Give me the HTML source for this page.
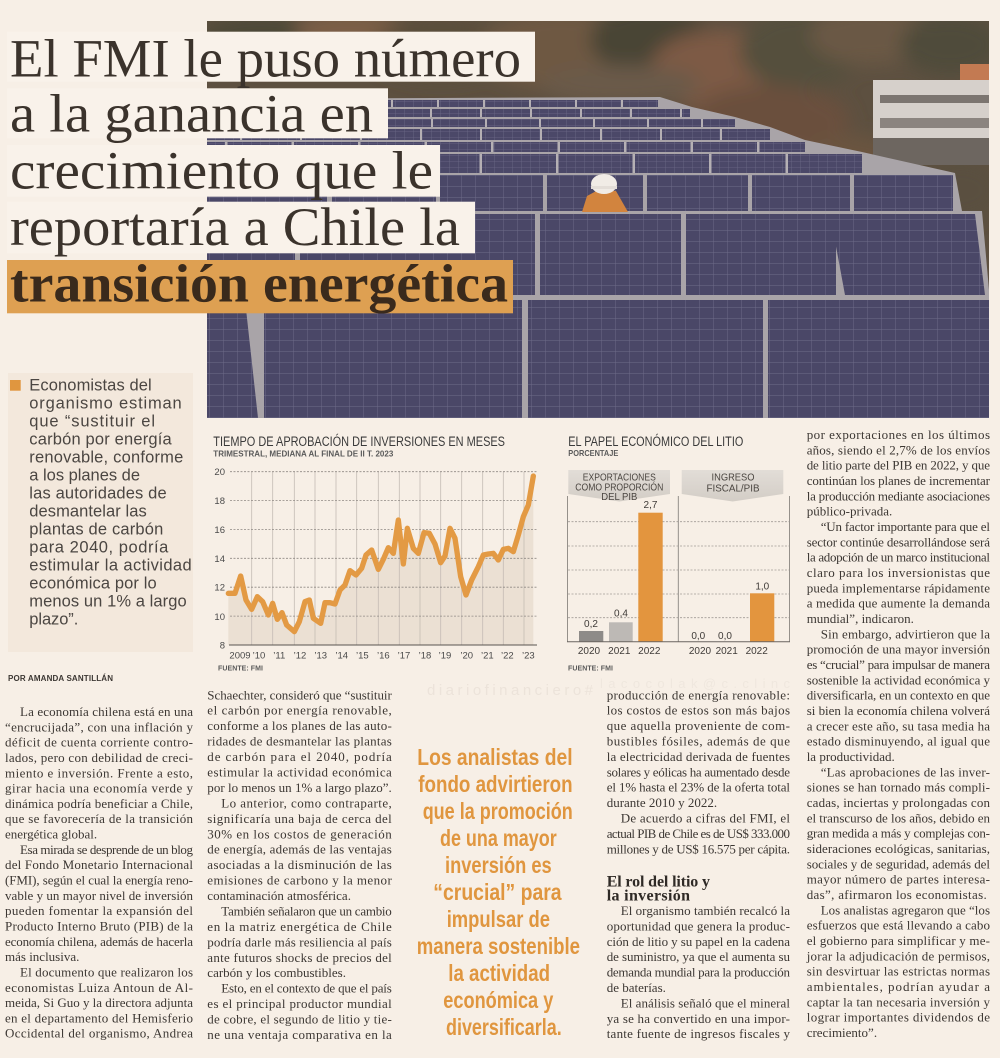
<!DOCTYPE html>
<html><head><meta charset="utf-8">
<style>
html,body{margin:0;padding:0;background:#f7efe6;}
svg{display:block}
.b{font-family:"Liberation Serif","DejaVu Serif",serif;font-size:13px;fill:#3c3733}
.s{font-family:"Liberation Sans","DejaVu Sans",sans-serif}
.h{font-family:"Liberation Serif","DejaVu Serif",serif;font-size:54px;fill:#3b332c}
.q{font-family:"Liberation Sans Narrow","Liberation Sans",sans-serif;font-size:23px;font-weight:bold;fill:#e0963f}
.sb{font-family:"Liberation Sans","DejaVu Sans",sans-serif;font-size:16.5px;fill:#4b4642}
.ax{font-family:"Liberation Sans",sans-serif;font-size:9.5px;fill:#4a4a4a}
</style></head>
<body>
<svg width="1000" height="1058" viewBox="0 0 1000 1058" xmlns="http://www.w3.org/2000/svg">
<defs>
  <clipPath id="pc"><rect x="207" y="21" width="782" height="397"/></clipPath>
  <filter id="bl" x="-50%" y="-50%" width="200%" height="200%"><feGaussianBlur stdDeviation="9"/></filter>
  <pattern id="cs" width="9" height="6" patternUnits="userSpaceOnUse"><rect width="9" height="6" fill="#4b4868"/><path d="M9 0V6M0 6H9" stroke="#6c6987" stroke-width="0.8"/></pattern>
  <pattern id="cl" width="14" height="11" patternUnits="userSpaceOnUse"><rect width="14" height="11" fill="#4a4767"/><path d="M14 0V11M0 11H14" stroke="#6f6c8a" stroke-width="0.9"/></pattern>
  <linearGradient id="tab" x1="0" y1="0" x2="0" y2="1"><stop offset="0" stop-color="#e2ddd7"/><stop offset="1" stop-color="#d3cdc6"/></linearGradient>
</defs>
<rect width="1000" height="1058" fill="#f7efe6"/>

<!-- PHOTO -->
<g clip-path="url(#pc)">
  <rect x="207" y="21" width="782" height="397" fill="#5d5040"/>
  <g filter="url(#bl)">
    <ellipse cx="260" cy="40" rx="60" ry="25" fill="#4d4a38"/>
    <ellipse cx="350" cy="30" rx="55" ry="20" fill="#7b5e47"/>
    <ellipse cx="440" cy="50" rx="70" ry="30" fill="#5a4d3a"/>
    <ellipse cx="560" cy="50" rx="80" ry="40" fill="#6e5842"/>
    <ellipse cx="650" cy="40" rx="60" ry="35" fill="#4a4536"/>
    <ellipse cx="720" cy="70" rx="70" ry="40" fill="#7d5a44"/>
    <ellipse cx="800" cy="50" rx="60" ry="40" fill="#55503c"/>
    <ellipse cx="870" cy="35" rx="60" ry="30" fill="#6a5845"/>
    <ellipse cx="950" cy="45" rx="50" ry="30" fill="#4f4c3b"/>
    <ellipse cx="620" cy="85" rx="80" ry="20" fill="#6b5a48"/>
    <ellipse cx="770" cy="120" rx="80" ry="35" fill="#6a4f3c"/>
    <ellipse cx="850" cy="160" rx="50" ry="25" fill="#6b5540"/>
    <ellipse cx="960" cy="190" rx="40" ry="30" fill="#5a5040"/>
  </g>
  <!-- building -->
  <rect x="960" y="64" width="30" height="16" fill="#c37a52"/>
  <rect x="873" y="80" width="116" height="85" fill="#d6d0cb"/>
  <rect x="880" y="95" width="109" height="8" fill="#7c7570"/>
  <rect x="880" y="118" width="109" height="10" fill="#8b847f"/>
  <rect x="873" y="138" width="116" height="27" fill="#6d6660"/>
  <!-- frames base -->
  <polygon points="207,99 660,97 692,107 735,117 770,127 805,140 862,152 955,173 962,211 982,211 989,290 989,418 207,418" fill="#a9a4a8"/>
  <!-- far rows -->
  <rect x="207" y="100" width="451" height="7" fill="url(#cs)"/>
  <rect x="207" y="109" width="483" height="8" fill="url(#cs)"/>
  <rect x="207" y="119" width="528" height="8" fill="url(#cs)"/>
  <rect x="207" y="129" width="563" height="11" fill="url(#cs)"/>
  <rect x="207" y="142" width="598" height="10" fill="url(#cs)"/>
  <rect x="207" y="154" width="655" height="19" fill="url(#cs)"/>
  <line x1="207" y1="103.5" x2="658" y2="103.5" stroke="#b5b0b4" stroke-width="7" stroke-dasharray="2 44"/>
  <line x1="230" y1="113" x2="690" y2="113" stroke="#b5b0b4" stroke-width="8" stroke-dasharray="2 48"/>
  <line x1="215" y1="123" x2="735" y2="123" stroke="#b5b0b4" stroke-width="8" stroke-dasharray="2 52"/>
  <line x1="240" y1="134.5" x2="770" y2="134.5" stroke="#b5b0b4" stroke-width="11" stroke-dasharray="2 58"/>
  <line x1="225" y1="147" x2="805" y2="147" stroke="#b5b0b4" stroke-width="10" stroke-dasharray="2.5 64"/>
  <line x1="250" y1="163.5" x2="862" y2="163.5" stroke="#b5b0b4" stroke-width="19" stroke-dasharray="2.5 74"/>
  <!-- row B -->
  <rect x="207" y="175" width="120" height="36" fill="url(#cl)"/>
  <rect x="332" y="175" width="104" height="36" fill="url(#cl)"/>
  <rect x="440" y="175" width="103" height="36" fill="url(#cl)"/>
  <rect x="547" y="175" width="96" height="36" fill="url(#cl)"/>
  <rect x="647" y="175" width="101" height="36" fill="url(#cl)"/>
  <rect x="752" y="175" width="98" height="36" fill="url(#cl)"/>
  <rect x="854" y="175" width="99" height="36" fill="url(#cl)"/>
  <!-- row C -->
  <rect x="207" y="214" width="88" height="81" fill="url(#cl)"/>
  <rect x="300" y="214" width="235" height="81" fill="url(#cl)"/>
  <rect x="540" y="214" width="141" height="81" fill="url(#cl)"/>
  <rect x="686" y="214" width="150" height="81" fill="url(#cl)"/>
  <polygon points="830,214 975,214 985,295 845,295" fill="url(#cl)"/>
  <!-- row D -->
  <polygon points="207,300 245,300 258,418 207,418" fill="url(#cl)"/>
  <rect x="264" y="300" width="258" height="118" fill="url(#cl)"/>
  <rect x="528" y="300" width="235" height="118" fill="url(#cl)"/>
  <rect x="768" y="300" width="221" height="118" fill="url(#cl)"/>
  <!-- worker -->
  <polygon points="582,212 587,196 600,189 616,191 628,212" fill="#d2843e"/>
  <ellipse cx="604" cy="184" rx="13" ry="10" fill="#f1ece6"/>
  <rect x="591" y="186" width="26" height="3" fill="#e4ded8"/>
</g>

<!-- TITLE -->
<rect x="7" y="31.7" width="528" height="50" fill="#f9f2ea"/>
<rect x="7" y="88.3" width="381" height="50" fill="#f9f2ea"/>
<rect x="7" y="145" width="433" height="51.7" fill="#f9f2ea"/>
<rect x="7" y="201.7" width="468" height="51.6" fill="#f9f2ea"/>
<rect x="7" y="260" width="506" height="53.3" fill="#dea052"/>
<text class="h" x="10" y="76.7" textLength="511" lengthAdjust="spacingAndGlyphs">El FMI le puso número</text>
<text class="h" x="10" y="131.7" textLength="363" lengthAdjust="spacingAndGlyphs">a la ganancia en</text>
<text class="h" x="10" y="188.3" textLength="423" lengthAdjust="spacingAndGlyphs">crecimiento que le</text>
<text class="h" x="10" y="245" textLength="450" lengthAdjust="spacingAndGlyphs">reportaría a Chile la</text>
<text class="h" x="10" y="301.7" textLength="498" lengthAdjust="spacingAndGlyphs" font-weight="bold" style="fill:#3a2a1c">transición energética</text>

<!-- SIDEBAR -->
<rect x="8" y="373" width="185" height="279" fill="#f3e8dc"/>
<rect x="10" y="380" width="10.7" height="10.7" fill="#e0963f"/>
<g class="sb">
<text x="29.3" y="390.7" textLength="122.4">Economistas del</text>
<text x="29.3" y="408.7" textLength="152.4">organismo estiman</text>
<text x="29.3" y="426.7" textLength="125.7">que “sustituir el</text>
<text x="29.3" y="444.7" textLength="142.4">carbón por energía</text>
<text x="29.3" y="462.7" textLength="154">renovable, conforme</text>
<text x="29.3" y="480.7" textLength="110.7">a los planes de</text>
<text x="29.3" y="498.7" textLength="137.4">las autoridades de</text>
<text x="29.3" y="516.7" textLength="117.4">desmantelar las</text>
<text x="29.3" y="534.7" textLength="134">plantas de carbón</text>
<text x="29.3" y="552.7" textLength="139">para 2040, podría</text>
<text x="29.3" y="570.7" textLength="162.4">estimular la actividad</text>
<text x="29.3" y="588.7" textLength="127.4">económica por lo</text>
<text x="29.3" y="606.7" textLength="157.4">menos un 1% a largo</text>
<text x="29.3" y="624.7" textLength="49">plazo”.</text>
</g>
<text class="s" x="8" y="681" font-size="8" font-weight="bold" fill="#3c3733" textLength="105">POR AMANDA SANTILLÁN</text>

<!-- CHART 1 -->
<text class="s" x="213.3" y="446" font-size="13.5" fill="#3a3a3a" textLength="291.7" lengthAdjust="spacingAndGlyphs">TIEMPO DE APROBACIÓN DE INVERSIONES EN MESES</text>
<text class="s" x="213.3" y="456.7" font-size="8.5" font-weight="bold" fill="#5a5a5a" textLength="180" lengthAdjust="spacingAndGlyphs">TRIMESTRAL, MEDIANA AL FINAL DE II T. 2023</text>
<g transform="translate(200,420) scale(0.33333)">
  <polygon points="85,520 105,520 122,468 138,540 155,568 172,530 188,545 205,585 218,550 232,598 246,578 260,615 283,635 298,605 315,545 328,540 340,595 362,610 375,548 390,548 405,552 420,510 435,495 450,452 468,465 485,445 498,405 515,390 535,448 550,418 565,383 580,400 595,300 610,432 622,325 640,385 655,400 672,338 688,340 705,372 722,428 735,408 750,325 765,355 782,470 798,525 815,480 835,440 850,405 865,402 880,400 895,420 910,388 925,385 940,395 955,345 970,290 985,255 1000,168 1000,675 85,675" fill="#ebe0d3"/>
</g>
<g stroke="#c4bcb4" stroke-width="0.8">
  <line x1="251.7" y1="471.7" x2="251.7" y2="645"/><line x1="272.7" y1="471.7" x2="272.7" y2="645"/>
  <line x1="294.3" y1="471.7" x2="294.3" y2="645"/><line x1="315" y1="471.7" x2="315" y2="645"/>
  <line x1="336" y1="471.7" x2="336" y2="645"/><line x1="356.7" y1="471.7" x2="356.7" y2="645"/>
  <line x1="378.3" y1="471.7" x2="378.3" y2="645"/><line x1="399.3" y1="471.7" x2="399.3" y2="645"/>
  <line x1="420" y1="471.7" x2="420" y2="645"/><line x1="440.7" y1="471.7" x2="440.7" y2="645"/>
  <line x1="461.7" y1="471.7" x2="461.7" y2="645"/><line x1="482.7" y1="471.7" x2="482.7" y2="645"/>
  <line x1="503.3" y1="471.7" x2="503.3" y2="645"/><line x1="524" y1="471.7" x2="524" y2="645"/>
</g>
<g stroke="#8f8984" stroke-width="0.8" stroke-dasharray="2 1.5">
  <line x1="230" y1="471.7" x2="537" y2="471.7"/><line x1="230" y1="500.6" x2="537" y2="500.6"/>
  <line x1="230" y1="529.5" x2="537" y2="529.5"/><line x1="230" y1="558.3" x2="537" y2="558.3"/>
  <line x1="230" y1="587.2" x2="537" y2="587.2"/><line x1="230" y1="616.1" x2="537" y2="616.1"/>
</g>
<line x1="229" y1="645" x2="537" y2="645" stroke="#5a5550" stroke-width="1"/>
<g transform="translate(200,420) scale(0.33333)">
  <polyline points="85,520 105,520 122,468 138,540 155,568 172,530 188,545 205,585 218,550 232,598 246,578 260,615 283,635 298,605 315,545 328,540 340,595 362,610 375,548 390,548 405,552 420,510 435,495 450,452 468,465 485,445 498,405 515,390 535,448 550,418 565,383 580,400 595,300 610,432 622,325 640,385 655,400 672,338 688,340 705,372 722,428 735,408 750,325 765,355 782,470 798,525 815,480 835,440 850,405 865,402 880,400 895,420 910,388 925,385 940,395 955,345 970,290 985,255 1000,168" fill="none" stroke="#e39a44" stroke-width="16" stroke-linejoin="round" stroke-linecap="round"/>
</g>
<g class="ax" text-anchor="end">
  <text x="225" y="475">20</text><text x="225" y="504">18</text><text x="225" y="533">16</text>
  <text x="225" y="562">14</text><text x="225" y="590.5">12</text><text x="225" y="620">10</text><text x="225" y="648.5">8</text>
</g>
<g class="ax" text-anchor="middle">
  <text x="240" y="658.5">2009</text><text x="259" y="658.5">’10</text><text x="279.3" y="658.5">’11</text>
  <text x="300" y="658.5">’12</text><text x="320.7" y="658.5">’13</text><text x="341.7" y="658.5">’14</text>
  <text x="362.3" y="658.5">’15</text><text x="383.3" y="658.5">’16</text><text x="404" y="658.5">’17</text>
  <text x="425" y="658.5">’18</text><text x="445" y="658.5">’19</text><text x="466.7" y="658.5">’20</text>
  <text x="487.3" y="658.5">’21</text><text x="507.3" y="658.5">’22</text><text x="528.3" y="658.5">’23</text>
</g>
<text class="s" x="218" y="670.7" font-size="7" font-weight="bold" fill="#5a5a5a" textLength="45">FUENTE: FMI</text>

<!-- CHART 2 -->
<text class="s" x="568.3" y="446" font-size="13.5" fill="#3a3a3a" textLength="175" lengthAdjust="spacingAndGlyphs">EL PAPEL ECONÓMICO DEL LITIO</text>
<text class="s" x="568.3" y="456" font-size="8.5" font-weight="bold" fill="#5a5a5a" textLength="50" lengthAdjust="spacingAndGlyphs">PORCENTAJE</text>
<polygon points="568.3,470 670,470 670,494 619.3,501.5 568.3,494" fill="url(#tab)"/>
<polygon points="681.7,470 783.3,470 783.3,494 732.7,501.5 681.7,494" fill="url(#tab)"/>
<g class="s" font-size="10" fill="#4a4540" text-anchor="middle">
  <text x="619.3" y="480.7" textLength="73" lengthAdjust="spacingAndGlyphs">EXPORTACIONES</text>
  <text x="619.3" y="490.7" textLength="88" lengthAdjust="spacingAndGlyphs">COMO PROPORCIÓN</text>
  <text x="619.3" y="500" textLength="36" lengthAdjust="spacingAndGlyphs">DEL PIB</text>
  <text x="733" y="480.7" textLength="43" lengthAdjust="spacingAndGlyphs">INGRESO</text>
  <text x="733" y="491.7" textLength="53" lengthAdjust="spacingAndGlyphs">FISCAL/PIB</text>
</g>
<g stroke="#a29c96" stroke-width="0.8" stroke-dasharray="2 1.5">
  <line x1="568" y1="521.7" x2="789" y2="521.7"/><line x1="568" y1="546" x2="789" y2="546"/>
  <line x1="568" y1="570" x2="789" y2="570"/><line x1="568" y1="594" x2="789" y2="594"/>
  <line x1="568" y1="617.7" x2="789" y2="617.7"/>
</g>
<g stroke="#8a8580" stroke-width="0.9">
  <line x1="567.5" y1="496" x2="567.5" y2="641.7"/>
  <line x1="678.3" y1="496" x2="678.3" y2="641.7"/>
  <line x1="789.5" y1="496" x2="789.5" y2="641.7"/>
</g>
<rect x="579" y="631" width="24.3" height="10.7" fill="#8e8b88"/>
<rect x="609" y="622.3" width="23.7" height="19.4" fill="#bdb9b5"/>
<rect x="638.3" y="512.7" width="24.4" height="129" fill="#e3953e"/>
<rect x="750" y="593.3" width="24.3" height="48.4" fill="#e3953e"/>
<line x1="567" y1="641.7" x2="790" y2="641.7" stroke="#6a6560" stroke-width="1"/>
<g class="s" font-size="10" fill="#3f3b38" text-anchor="middle">
  <text x="591" y="627">0,2</text><text x="621" y="616.5">0,4</text><text x="650.5" y="508">2,7</text>
  <text x="698.3" y="639">0,0</text><text x="725" y="639">0,0</text><text x="762.3" y="589.5">1,0</text>
  <text x="589" y="654">2020</text><text x="619.3" y="654">2021</text><text x="649.3" y="654">2022</text>
  <text x="700" y="654">2020</text><text x="726.7" y="654">2021</text><text x="756.7" y="654">2022</text>
</g>
<text class="s" x="568" y="670.7" font-size="7" font-weight="bold" fill="#5a5a5a" textLength="45">FUENTE: FMI</text>

<!-- watermark -->
<text class="s" x="427" y="695" font-size="15" fill="#ece3da" textLength="166">diariofinanciero#</text>
<text class="s" x="600" y="688" font-size="13" fill="#efe7de" textLength="190">lacocolak@c.clinc</text>

<!-- COLUMN 1 -->
<g class="b">
<text x="20" y="716" textLength="173">La economía chilena está en una</text>
<text x="5" y="731.3" textLength="188">“encrucijada”, con una inflación y</text>
<text x="5" y="746.6" textLength="188">déficit de cuenta corriente contro-</text>
<text x="5" y="762" textLength="188">lados, pero con debilidad de creci-</text>
<text x="5" y="777.3" textLength="188">miento e inversión. Frente a esto,</text>
<text x="5" y="792.6" textLength="188">girar hacia una economía verde y</text>
<text x="5" y="807.9" textLength="188">dinámica podría beneficiar a Chile,</text>
<text x="5" y="823.2" textLength="188">que se favorecería de la transición</text>
<text x="5" y="838.6">energética global.</text>
<text x="20" y="853.9" textLength="173">Esa mirada se desprende de un blog</text>
<text x="5" y="869.2" textLength="188">del Fondo Monetario Internacional</text>
<text x="5" y="884.5" textLength="188">(FMI), según el cual la energía reno-</text>
<text x="5" y="899.8" textLength="188">vable y un mayor nivel de inversión</text>
<text x="5" y="915.2" textLength="188">pueden fomentar la expansión del</text>
<text x="5" y="930.5" textLength="188">Producto Interno Bruto (PIB) de la</text>
<text x="5" y="945.8" textLength="188">economía chilena, además de hacerla</text>
<text x="5" y="961.1">más inclusiva.</text>
<text x="20" y="976.4" textLength="173">El documento que realizaron los</text>
<text x="5" y="991.8" textLength="188">economistas Luiza Antoun de Al-</text>
<text x="5" y="1007.1" textLength="188">meida, Si Guo y la directora adjunta</text>
<text x="5" y="1022.4" textLength="188">en el departamento del Hemisferio</text>
<text x="5" y="1037.7" textLength="188">Occidental del organismo, Andrea</text>
</g>

<!-- COLUMN 2 -->
<g class="b">
<text x="207.3" y="699.3" textLength="184.5">Schaechter, consideró que “sustituir</text>
<text x="207.3" y="714.7" textLength="184.5">el carbón por energía renovable,</text>
<text x="207.3" y="730.2" textLength="184.5">conforme a los planes de las auto-</text>
<text x="207.3" y="745.6" textLength="184.5">ridades de desmantelar las plantas</text>
<text x="207.3" y="761.1" textLength="184.5">de carbón para el 2040, podría</text>
<text x="207.3" y="776.5" textLength="184.5">estimular la actividad económica</text>
<text x="207.3" y="791.9" textLength="184.5">por lo menos un 1% a largo plazo”.</text>
<text x="221.3" y="807.4" textLength="170.5">Lo anterior, como contraparte,</text>
<text x="207.3" y="822.8" textLength="184.5">significaría una baja de cerca del</text>
<text x="207.3" y="838.3" textLength="184.5">30% en los costos de generación</text>
<text x="207.3" y="853.7" textLength="184.5">de energía, además de las ventajas</text>
<text x="207.3" y="869.1" textLength="184.5">asociadas a la disminución de las</text>
<text x="207.3" y="884.6" textLength="184.5">emisiones de carbono y la menor</text>
<text x="207.3" y="900">contaminación atmosférica.</text>
<text x="221.3" y="915.5" textLength="170.5">También señalaron que un cambio</text>
<text x="207.3" y="930.9" textLength="184.5">en la matriz energética de Chile</text>
<text x="207.3" y="946.3" textLength="184.5">podría darle más resiliencia al país</text>
<text x="207.3" y="961.8" textLength="184.5">ante futuros shocks de precios del</text>
<text x="207.3" y="977.2">carbón y los combustibles.</text>
<text x="221.3" y="992.7" textLength="170.5">Esto, en el contexto de que el país</text>
<text x="207.3" y="1008.1" textLength="184.5">es el principal productor mundial</text>
<text x="207.3" y="1023.5" textLength="184.5">de cobre, el segundo de litio y tie-</text>
<text x="207.3" y="1039" textLength="184.5">ne una ventaja comparativa en la</text>
</g>

<!-- PULL QUOTE -->
<g class="q">
<text x="417.3" y="765" textLength="155.3" lengthAdjust="spacingAndGlyphs">Los analistas del</text>
<text x="418.3" y="792" textLength="154.3" lengthAdjust="spacingAndGlyphs">fondo advirtieron</text>
<text x="422.7" y="819" textLength="150" lengthAdjust="spacingAndGlyphs">que la promoción</text>
<text x="440" y="846" textLength="116.7" lengthAdjust="spacingAndGlyphs">de una mayor</text>
<text x="445" y="873" textLength="106.7" lengthAdjust="spacingAndGlyphs">inversión es</text>
<text x="433.3" y="900" textLength="128.3" lengthAdjust="spacingAndGlyphs">“crucial” para</text>
<text x="446.7" y="927" textLength="103.3" lengthAdjust="spacingAndGlyphs">impulsar de</text>
<text x="416.7" y="954" textLength="163.3" lengthAdjust="spacingAndGlyphs">manera sostenible</text>
<text x="448.3" y="981" textLength="101.7" lengthAdjust="spacingAndGlyphs">la actividad</text>
<text x="443.3" y="1008" textLength="110" lengthAdjust="spacingAndGlyphs">económica y</text>
<text x="446" y="1035" textLength="115.7" lengthAdjust="spacingAndGlyphs">diversificarla.</text>
</g>

<!-- COLUMN 3 -->
<g class="b">
<text x="606.7" y="699.3" textLength="183.3">producción de energía renovable:</text>
<text x="606.7" y="714.7" textLength="183.3">los costos de estos son más bajos</text>
<text x="606.7" y="730.1" textLength="183.3">que aquella proveniente de com-</text>
<text x="606.7" y="745.5" textLength="183.3">bustibles fósiles, además de que</text>
<text x="606.7" y="760.9" textLength="183.3">la electricidad derivada de fuentes</text>
<text x="606.7" y="776.3" textLength="183.3">solares y eólicas ha aumentado desde</text>
<text x="606.7" y="791.7" textLength="183.3">el 1% hasta el 23% de la oferta total</text>
<text x="606.7" y="807.1">durante 2010 y 2022.</text>
<text x="620.7" y="822.5" textLength="169.3">De acuerdo a cifras del FMI, el</text>
<text x="606.7" y="837.9" textLength="183.3">actual PIB de Chile es de US$ 333.000</text>
<text x="606.7" y="853.3" textLength="183.3">millones y de US$ 16.575 per cápita.</text>
<text x="606.7" y="886.7" style="font-size:16px;font-weight:bold;fill:#2f2a26" textLength="103.3">El rol del litio y</text>
<text x="606.7" y="900.7" style="font-size:16px;font-weight:bold;fill:#2f2a26" textLength="83.3">la inversión</text>
<text x="620.7" y="915" textLength="169.3">El organismo también recalcó la</text>
<text x="606.7" y="930.4" textLength="183.3">oportunidad que genera la produc-</text>
<text x="606.7" y="945.8" textLength="183.3">ción de litio y su papel en la cadena</text>
<text x="606.7" y="961.2" textLength="183.3">de suministro, ya que el aumenta su</text>
<text x="606.7" y="976.6" textLength="183.3">demanda mundial para la producción</text>
<text x="606.7" y="992">de baterías.</text>
<text x="620.7" y="1007.4" textLength="169.3">El análisis señaló que el mineral</text>
<text x="606.7" y="1022.8" textLength="183.3">ya se ha convertido en una impor-</text>
<text x="606.7" y="1038.2" textLength="183.3">tante fuente de ingresos fiscales y</text>
</g>

<!-- COLUMN 4 -->
<g class="b">
<text x="806.7" y="439" textLength="183.3">por exportaciones en los últimos</text>
<text x="806.7" y="454.3" textLength="183.3">años, siendo el 2,7% de los envíos</text>
<text x="806.7" y="469.7" textLength="183.3">de litio parte del PIB en 2022, y que</text>
<text x="806.7" y="485" textLength="183.3">continúan los planes de incrementar</text>
<text x="806.7" y="500.3" textLength="183.3">la producción mediante asociaciones</text>
<text x="806.7" y="515.7">público-privada.</text>
<text x="820.7" y="531" textLength="169.3">“Un factor importante para que el</text>
<text x="806.7" y="546.3" textLength="183.3">sector continúe desarrollándose será</text>
<text x="806.7" y="561.7" textLength="183.3">la adopción de un marco institucional</text>
<text x="806.7" y="577" textLength="183.3">claro para los inversionistas que</text>
<text x="806.7" y="592.3" textLength="183.3">pueda implementarse rápidamente</text>
<text x="806.7" y="607.7" textLength="183.3">a medida que aumente la demanda</text>
<text x="806.7" y="623">mundial”, indicaron.</text>
<text x="820.7" y="638.3" textLength="169.3">Sin embargo, advirtieron que la</text>
<text x="806.7" y="653.7" textLength="183.3">promoción de una mayor inversión</text>
<text x="806.7" y="669" textLength="183.3">es “crucial” para impulsar de manera</text>
<text x="806.7" y="684.3" textLength="183.3">sostenible la actividad económica y</text>
<text x="806.7" y="699.7" textLength="183.3">diversificarla, en un contexto en que</text>
<text x="806.7" y="715" textLength="183.3">si bien la economía chilena volverá</text>
<text x="806.7" y="730.3" textLength="183.3">a crecer este año, su tasa media ha</text>
<text x="806.7" y="745.7" textLength="183.3">estado disminuyendo, al igual que</text>
<text x="806.7" y="761">la productividad.</text>
<text x="820.7" y="776.3" textLength="169.3">“Las aprobaciones de las inver-</text>
<text x="806.7" y="791.7" textLength="183.3">siones se han tornado más compli-</text>
<text x="806.7" y="807" textLength="183.3">cadas, inciertas y prolongadas con</text>
<text x="806.7" y="822.3" textLength="183.3">el transcurso de los años, debido en</text>
<text x="806.7" y="837.7" textLength="183.3">gran medida a más y complejas con-</text>
<text x="806.7" y="853" textLength="183.3">sideraciones ecológicas, sanitarias,</text>
<text x="806.7" y="868.3" textLength="183.3">sociales y de seguridad, además del</text>
<text x="806.7" y="883.7" textLength="183.3">mayor número de partes interesa-</text>
<text x="806.7" y="899" textLength="180">das”, afirmaron los economistas.</text>
<text x="820.7" y="914.3" textLength="169.3">Los analistas agregaron que “los</text>
<text x="806.7" y="929.7" textLength="183.3">esfuerzos que está llevando a cabo</text>
<text x="806.7" y="945" textLength="183.3">el gobierno para simplificar y me-</text>
<text x="806.7" y="960.3" textLength="183.3">jorar la adjudicación de permisos,</text>
<text x="806.7" y="975.7" textLength="183.3">sin desvirtuar las estrictas normas</text>
<text x="806.7" y="991" textLength="183.3">ambientales, podrían ayudar a</text>
<text x="806.7" y="1006.3" textLength="183.3">captar la tan necesaria inversión y</text>
<text x="806.7" y="1021.7" textLength="183.3">lograr importantes dividendos de</text>
<text x="806.7" y="1037">crecimiento”.</text>
</g>
</svg>
</body></html>
